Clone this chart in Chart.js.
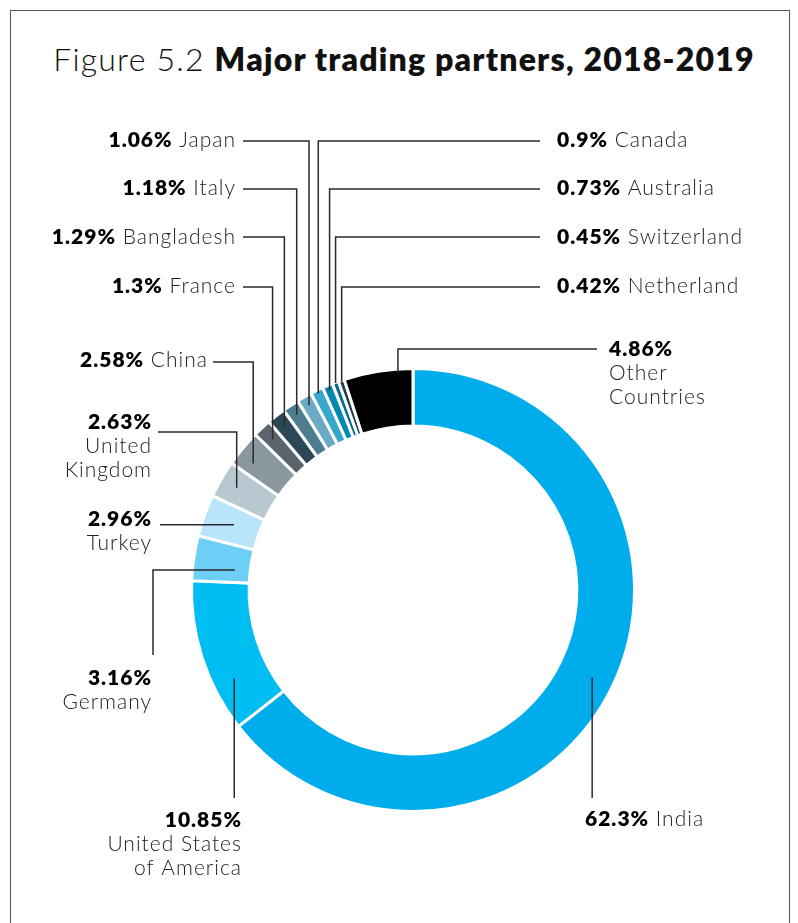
<!DOCTYPE html>
<html lang="en">
<head>
<meta charset="UTF-8">
<title>Major trading partners, 2018-2019</title>
<script src="https://cdn.jsdelivr.net/npm/chart.js"></script>
<style>
  body { margin: 0; background: #fff; width: 798px; height: 923px; overflow: hidden; position: relative; }
  .frame {
    position: absolute; left: 10px; top: 10px; width: 778px; height: 940px;
    border: 1px solid #5a5a5a;
  }
  h1 {
    position: absolute; left: 0; top: 39px; width: 808px; margin: 0;
    text-align: center; font-family: 'Lato', 'Open Sans', sans-serif;
    font-size: 32px; font-weight: 300; color: #111; letter-spacing: 1.2px;
  }
  h1 b { font-weight: 800; }
  canvas { position: absolute; left: 0; top: 0; }
</style>
</head>
<body>
<div class="frame"></div>
<h1>Figure 5.2 <b>Major trading partners, 2018-2019</b></h1>
<canvas id="donut" width="798" height="923"></canvas>
<script>
// data
const countries = ['India', 'United States of America', 'Germany', 'Turkey', 'United Kingdom', 'China',
  'France', 'Bangladesh', 'Italy', 'Japan', 'Canada', 'Australia', 'Switzerland', 'Netherland', 'Other Countries'];
const shares = [62.3, 10.85, 3.16, 2.96, 2.63, 2.58, 1.3, 1.29, 1.18, 1.06, 0.9, 0.73, 0.45, 0.42, 4.86];
const colors = ['#00adec', '#00bdf2', '#6dcff6', '#b9e5fa', '#b8c8d0', '#8a979e', '#5b646b', '#2c4857',
  '#4f7d90', '#6ca9c5', '#39a6cb', '#0089b1', '#006b8d', '#1f3f50', '#000000'];
// display text of the names (line breaks as printed)
const nameLines = [['India'], ['United States', 'of America'], ['Germany'], ['Turkey'], ['United', 'Kingdom'],
  ['China'], ['France'], ['Bangladesh'], ['Italy'], ['Japan'], ['Canada'], ['Australia'], ['Switzerland'],
  ['Netherland'], ['Other', 'Countries']];

// leader line + label placement: f = position along the slice, r = anchor radius / outer radius
const labelLayout = [
  { f: 0.5,  r: 0.90,  path: [{ v: 798 }],             tx: 585, ty: 819, align: 'left',  inline: true },
  { f: 0.29, r: 0.90,  path: [{ v: 798 }],             tx: 242, ty: 820, align: 'right' },
  { f: 0.34, r: 0.81,  path: [{ h: 153 }, { v: 655 }], tx: 152, ty: 678, align: 'right' },
  { f: 0.53, r: 0.86,  path: [{ h: 160 }],             tx: 152, ty: 519, align: 'right' },
  { f: 0.5,  r: 0.92,  path: [{ v: 432 }, { h: 158 }], tx: 152, ty: 422, align: 'right' },
  { f: 0.35, r: 0.92,  path: [{ v: 362 }, { h: 213 }], tx: 208, ty: 360, align: 'right', inline: true },
  { f: 0.5,  r: 0.93,  path: [{ v: 287 }, { h: 243 }], tx: 236, ty: 286, align: 'right', inline: true },
  { f: 0.5,  r: 0.94,  path: [{ v: 237 }, { h: 243 }], tx: 236, ty: 237, align: 'right', inline: true },
  { f: 0.5,  r: 0.95,  path: [{ v: 189 }, { h: 243 }], tx: 236, ty: 188, align: 'right', inline: true },
  { f: 0.5,  r: 0.957, path: [{ v: 141 }, { h: 243 }], tx: 236, ty: 140, align: 'right', inline: true },
  { f: 0.5,  r: 0.985, path: [{ v: 141 }, { h: 540 }], tx: 557, ty: 140, align: 'left',  inline: true },
  { f: 0.5,  r: 0.976, path: [{ v: 189 }, { h: 540 }], tx: 557, ty: 188, align: 'left',  inline: true },
  { f: 0.5,  r: 0.998, path: [{ v: 237 }, { h: 540 }], tx: 557, ty: 237, align: 'left',  inline: true },
  { f: 0.5,  r: 0.995, path: [{ v: 287 }, { h: 540 }], tx: 557, ty: 286, align: 'left',  inline: true },
  { f: 0.78, r: 0.98,  path: [{ v: 349 }, { h: 597 }], tx: 609, ty: 349, align: 'left' }
];

const FONT = "'Lato', 'Open Sans', sans-serif";
const boldFont = '800 21px ' + FONT;
const lightFont = '300 21px ' + FONT;
const LINE_H = 24;

function drawLabel(ctx, i, L) {
  const pct = shares[i] + '%';
  ctx.textBaseline = 'middle';
  ctx.letterSpacing = '1px';
  if (L.inline) {
    const name = ' ' + nameLines[i][0];
    ctx.font = boldFont; const wp = ctx.measureText(pct).width;
    ctx.font = lightFont; const wn = ctx.measureText(name).width;
    const x0 = L.align === 'left' ? L.tx : L.tx - wp - wn;
    ctx.textAlign = 'left';
    ctx.font = boldFont; ctx.fillStyle = '#000'; ctx.fillText(pct, x0, L.ty);
    ctx.font = lightFont; ctx.fillStyle = '#222'; ctx.fillText(name, x0 + wp, L.ty);
  } else {
    ctx.textAlign = L.align;
    ctx.font = boldFont; ctx.fillStyle = '#000'; ctx.fillText(pct, L.tx, L.ty);
    ctx.font = lightFont; ctx.fillStyle = '#222';
    nameLines[i].forEach((t, k) => ctx.fillText(t, L.tx, L.ty + LINE_H * (k + 1)));
  }
}

const leaders = {
  id: 'leaders',
  afterDraw(chart) {
    const ctx = chart.ctx;
    const meta = chart.getDatasetMeta(0);
    ctx.save();
    meta.data.forEach((arc, i) => {
      const L = labelLayout[i];
      const p = arc.getProps(['x', 'y', 'startAngle', 'endAngle', 'outerRadius'], true);
      const a = p.startAngle + (p.endAngle - p.startAngle) * L.f;
      let x = p.x + Math.cos(a) * p.outerRadius * L.r;
      let y = p.y + Math.sin(a) * p.outerRadius * L.r;
      ctx.beginPath();
      ctx.moveTo(x, y);
      L.path.forEach(s => {
        if ('v' in s) y = s.v; else x = s.h;
        ctx.lineTo(x, y);
      });
      ctx.strokeStyle = '#2a2a2a';
      ctx.lineWidth = 1.5;
      ctx.stroke();
      drawLabel(ctx, i, L);
    });
    ctx.restore();
  }
};

new Chart(document.getElementById('donut'), {
  type: 'doughnut',
  data: {
    labels: countries,
    datasets: [{
      data: shares,
      backgroundColor: colors,
      borderColor: '#ffffff',
      borderWidth: 3,
      borderJoinStyle: 'miter'
    }]
  },
  options: {
    responsive: false,
    animation: false,
    cutout: '74%',
    layout: { padding: { left: 190, right: 162, top: 367, bottom: 110 } },
    plugins: { legend: { display: false }, tooltip: { enabled: false } }
  },
  plugins: [leaders]
});
</script>
</body>
</html>
